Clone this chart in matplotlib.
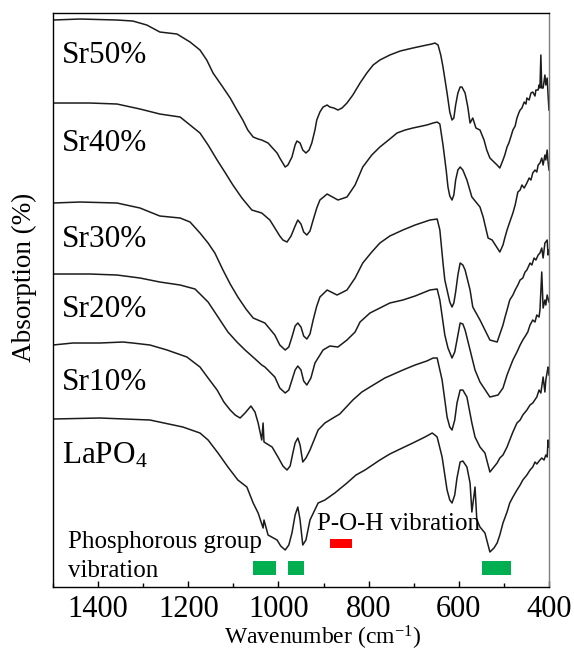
import matplotlib
matplotlib.use("Agg")
import matplotlib.pyplot as plt

plt.rcParams["font.family"] = ["Liberation Serif", "DejaVu Serif"]
plt.rcParams["mathtext.fontset"] = "custom"
plt.rcParams["mathtext.rm"] = "Liberation Serif"
plt.rcParams["mathtext.it"] = "Liberation Serif:italic"

# FTIR spectra, stacked with vertical offsets (wavenumber in cm-1, absorption in a.u.)
sr50_wn = [1500, 1440, 1358, 1323, 1292, 1263, 1225, 1196, 1174, 1159,
           1145, 1125, 1107, 1092, 1079, 1068, 1056, 1045, 1037, 1023,
           1003, 997, 985, 979, 970, 963, 959, 952, 946, 939,
           932, 926, 919, 915, 908, 901, 892, 886, 877, 868,
           859, 848, 835, 819, 804, 790, 775, 753, 730, 702,
           671, 660, 653, 646, 640, 635, 626, 620, 615, 611,
           607, 602, 597, 593, 586, 580, 575, 569, 562, 553,
           544, 538, 531, 522, 515, 509, 502, 498, 493, 489,
           484, 480, 475, 471, 467, 464, 460, 455, 451, 449,
           444, 440, 436, 431, 429, 424, 422, 420, 418, 416,
           413, 409, 407, 404, 402, 400]
sr50_ab = [56.7, 56.8, 56.7, 56.6, 56.2, 55.5, 55.3, 54.5, 53.7, 52.7,
           51.4, 50.1, 48.9, 47.7, 46.7, 45.7, 45.0, 44.8, 44.7, 44.4,
           43.4, 42.9, 42.0, 42.2, 43.0, 44.2, 44.6, 44.4, 43.7, 43.4,
           43.7, 44.4, 45.7, 46.7, 47.5, 48.0, 48.2, 48.0, 47.9, 47.7,
           47.9, 48.4, 49.2, 50.4, 51.4, 52.2, 52.7, 53.2, 53.6, 53.9,
           54.2, 54.3, 54.4, 54.2, 53.2, 52.0, 49.4, 47.5, 46.7, 46.9,
           48.2, 49.4, 50.0, 50.0, 49.4, 48.0, 46.4, 46.9, 45.9, 45.7,
           44.7, 43.7, 42.9, 42.5, 42.2, 41.9, 42.7, 43.2, 44.0, 44.4,
           45.1, 45.7, 46.1, 46.9, 47.4, 47.7, 47.9, 48.5, 48.3, 48.9,
           48.7, 49.4, 49.5, 49.1, 49.7, 49.7, 50.2, 49.9, 53.2, 49.9,
           49.9, 51.2, 50.2, 50.9, 49.2, 47.7]

sr40_wn = [1500, 1418, 1358, 1307, 1263, 1218, 1174, 1156, 1136, 1119,
           1101, 1081, 1059, 1037, 1019, 997, 990, 981, 972, 963,
           957, 950, 944, 937, 930, 923, 915, 908, 892, 868,
           848, 830, 813, 793, 775, 753, 737, 719, 702, 671,
           657, 648, 642, 635, 628, 624, 620, 615, 611, 607,
           602, 597, 591, 582, 571, 553, 546, 535, 526, 509,
           502, 498, 493, 487, 480, 475, 469, 464, 460, 455,
           449, 444, 440, 436, 431, 427, 424, 420, 416, 413,
           409, 407, 404, 402, 400]
sr40_ab = [48.4, 48.4, 48.3, 47.8, 47.3, 47.0, 45.4, 44.2, 42.7, 41.5,
           40.2, 38.9, 37.7, 37.4, 36.7, 35.1, 34.7, 34.5, 35.1, 36.1,
           36.7, 36.3, 35.5, 35.2, 35.6, 36.7, 37.9, 38.7, 39.3, 38.7,
           39.0, 40.2, 42.0, 43.2, 44.0, 44.8, 45.4, 45.7, 45.9, 46.2,
           46.4, 46.5, 46.3, 44.2, 41.7, 40.0, 39.1, 38.7, 39.2, 40.7,
           41.7, 42.0, 41.7, 40.7, 39.0, 38.0, 37.0, 34.9, 34.7, 33.5,
           34.2, 34.9, 35.7, 36.5, 37.4, 38.2, 39.5, 39.7, 40.2, 39.9,
           40.4, 40.9, 40.7, 41.4, 41.7, 41.5, 42.2, 42.4, 42.9, 42.2,
           43.2, 42.7, 43.7, 42.5, 41.7]

sr30_wn = [1500, 1440, 1358, 1307, 1263, 1218, 1196, 1174, 1156, 1141,
           1123, 1107, 1090, 1072, 1056, 1030, 1008, 997, 985, 977,
           970, 963, 957, 950, 944, 937, 930, 923, 915, 908,
           892, 870, 848, 830, 813, 793, 775, 753, 724, 697,
           664, 648, 642, 635, 631, 626, 620, 615, 611, 607,
           602, 597, 591, 586, 575, 569, 553, 531, 515, 502,
           498, 493, 487, 480, 475, 469, 464, 458, 453, 449,
           442, 438, 433, 429, 424, 420, 416, 413, 409, 404,
           402, 400]
sr30_ab = [38.4, 38.5, 38.4, 37.9, 37.1, 36.9, 36.5, 35.4, 34.4, 33.4,
           31.7, 30.3, 29.0, 27.8, 26.9, 26.4, 25.2, 24.2, 23.7, 24.0,
           25.0, 26.1, 26.4, 26.0, 25.1, 24.8, 25.3, 26.7, 28.1, 29.0,
           29.7, 29.2, 29.7, 30.9, 32.4, 33.5, 34.4, 35.1, 35.7, 36.2,
           36.7, 36.8, 35.7, 32.4, 30.7, 29.7, 28.5, 28.0, 28.4, 29.5,
           31.2, 32.4, 32.2, 31.7, 29.7, 28.0, 26.7, 24.7, 24.5, 26.2,
           26.9, 27.7, 28.7, 29.2, 29.7, 30.2, 30.7, 30.9, 31.5, 31.7,
           32.4, 32.2, 32.9, 32.7, 33.2, 33.4, 33.9, 32.9, 34.4, 34.7,
           33.2, 33.7]

sr20_wn = [1500, 1418, 1358, 1307, 1263, 1218, 1185, 1156, 1134, 1112,
           1092, 1074, 1054, 1037, 1030, 1008, 997, 985, 977, 970,
           963, 957, 950, 944, 937, 928, 919, 901, 886, 868,
           848, 830, 819, 797, 775, 753, 724, 697, 664, 648,
           642, 631, 624, 615, 609, 604, 597, 591, 586, 575,
           564, 553, 531, 513, 502, 493, 487, 480, 471, 464,
           458, 451, 447, 442, 436, 431, 427, 422, 420, 416,
           413, 409, 407, 404, 400]
sr20_ab = [31.3, 31.3, 31.2, 30.9, 30.5, 30.2, 29.8, 28.5, 27.0, 25.5,
           24.5, 23.7, 22.9, 22.2, 22.0, 21.0, 19.9, 19.4, 19.7, 20.7,
           21.7, 22.1, 21.7, 20.6, 20.2, 20.9, 22.4, 23.7, 24.1, 24.0,
           24.7, 25.5, 26.5, 27.4, 27.9, 28.4, 28.7, 29.1, 29.7, 29.8,
           28.7, 25.2, 23.9, 22.9, 23.5, 24.7, 26.4, 26.3, 25.7, 23.7,
           21.7, 20.5, 19.0, 19.2, 19.9, 21.2, 21.9, 22.7, 23.5, 24.2,
           24.7, 25.2, 25.5, 26.2, 26.7, 26.5, 27.2, 27.0, 27.7, 31.5,
           27.9, 28.7, 28.2, 29.2, 28.5]

sr10_wn = [1500, 1456, 1396, 1345, 1323, 1285, 1247, 1203, 1174, 1156,
           1136, 1121, 1107, 1096, 1085, 1074, 1061, 1052, 1045, 1037,
           1034, 1032, 1014, 1001, 990, 981, 974, 968, 963, 957,
           952, 946, 939, 930, 912, 897, 879, 864, 835, 815,
           797, 764, 724, 697, 671, 657, 648, 637, 631, 626,
           620, 615, 609, 604, 597, 591, 582, 571, 564, 553,
           542, 531, 515, 509, 502, 493, 487, 480, 471, 464,
           458, 449, 442, 436, 427, 422, 418, 413, 409, 407,
           404, 402, 400]
sr10_ab = [24.2, 24.4, 24.4, 24.5, 24.4, 24.2, 23.7, 23.0, 22.0, 20.9,
           19.7, 18.5, 17.7, 17.2, 16.9, 17.4, 18.1, 17.5, 16.4, 14.7,
           16.4, 14.5, 14.0, 13.0, 12.1, 11.7, 12.1, 13.4, 14.4, 14.9,
           14.2, 12.5, 12.9, 13.7, 15.7, 16.4, 16.9, 17.3, 18.7, 19.5,
           20.0, 20.9, 21.7, 22.2, 22.6, 22.9, 22.9, 20.7, 18.7, 17.0,
           16.0, 15.7, 16.7, 18.4, 19.7, 19.7, 19.0, 16.4, 15.0, 14.0,
           13.4, 11.5, 12.4, 12.9, 13.2, 14.0, 14.7, 15.5, 16.4, 16.7,
           17.2, 17.7, 18.2, 18.4, 19.0, 19.7, 19.4, 21.0, 19.5, 20.7,
           21.5, 22.0, 21.2]

lapo4_wn = [1500, 1396, 1285, 1212, 1174, 1156, 1134, 1112, 1090, 1070,
            1056, 1045, 1034, 1032, 1023, 1003, 995, 985, 977, 970,
            963, 957, 952, 946, 939, 930, 912, 897, 875, 848,
            828, 808, 775, 753, 730, 702, 675, 659, 653, 648,
            637, 631, 626, 620, 615, 609, 604, 597, 591, 582,
            575, 571, 564, 560, 553, 542, 531, 522, 515, 509,
            502, 493, 487, 480, 471, 464, 458, 449, 442, 436,
            431, 427, 420, 416, 411, 407, 404, 402, 400]
lapo4_ab = [16.8, 16.9, 16.7, 16.0, 15.4, 14.7, 13.4, 12.0, 10.7, 10.0,
            8.4, 7.4, 5.9, 6.7, 5.2, 4.7, 4.1, 3.7, 4.2, 5.4,
            7.2, 8.0, 6.7, 4.2, 4.7, 6.7, 8.4, 8.7, 9.4, 10.4,
            11.2, 11.7, 12.7, 13.3, 13.8, 14.4, 15.0, 15.4, 15.2, 15.0,
            13.0, 11.2, 9.7, 8.7, 8.4, 9.2, 10.9, 12.5, 12.6, 12.0,
            10.4, 7.5, 10.0, 6.7, 6.0, 5.4, 3.5, 3.9, 4.4, 5.2,
            6.4, 7.5, 8.4, 9.0, 9.7, 10.2, 10.7, 11.2, 11.7, 12.0,
            12.5, 12.3, 12.7, 12.9, 12.7, 13.2, 13.0, 14.7, 14.0]

series_names = ["Sr50%", "Sr40%", "Sr30%", "Sr20%", "Sr10%", r"LaPO$_\mathregular{4}$"]
series_wn = [sr50_wn, sr40_wn, sr30_wn, sr20_wn, sr10_wn, lapo4_wn]
series_ab = [sr50_ab, sr40_ab, sr30_ab, sr20_ab, sr10_ab, lapo4_ab]
label_ab = [52.4, 43.6, 34.0, 27.0, 19.7, 12.4]

# Assignment bands (wavenumber ranges)
phosphate_bands = [(1057, 1005), (979, 943), (549, 484)]
poh_band = (886, 837)

fig = plt.figure(figsize=(5.74, 6.51), dpi=100)
ax = fig.add_axes([0.0923, 0.0983, 0.8641, 0.8817])

for wn, ab in zip(series_wn, series_ab):
    ax.plot(wn, ab, color="#1c1c1c", lw=1.1, solid_joinstyle="round")

for name, y in zip(series_names, label_ab):
    ax.text(1480, y, name, fontsize=22.5, ha="left", va="baseline")

for hi, lo in phosphate_bands:
    ax.fill_between([lo, hi], 1.2, 2.6, color="#00b050", lw=0)
ax.fill_between([poh_band[1], poh_band[0]], 3.9, 4.8, color="#ff0000", lw=0)

ax.text(1467, 3.9, "Phosphorous group", fontsize=18, ha="left", va="baseline")
ax.text(1467, 1.0, "vibration", fontsize=18, ha="left", va="baseline")
ax.text(915, 5.7, "P-O-H vibration", fontsize=18, ha="left", va="baseline")

ax.set_xlim(1500, 400)
ax.set_ylim(0, 57.4)
ax.set_xticks([1400, 1200, 1000, 800, 600, 400])
ax.set_xticks([1500, 1300, 1100, 900, 700, 500], minor=True)
ax.set_yticks([])
ax.tick_params(axis="x", which="major", direction="in", length=4.5, width=1.0,
               labelsize=22, pad=6)
ax.tick_params(axis="x", which="minor", direction="in", length=3, width=1.0)

for side in ["left", "bottom", "top"]:
    ax.spines[side].set_linewidth(1.0)
    ax.spines[side].set_color("black")
ax.spines["right"].set_linewidth(1.0)
ax.spines["right"].set_color("#7f7f7f")

ax.set_xlabel(r"Wavenumber (cm$^{\mathregular{-1}}$)", fontsize=17)
ax.xaxis.label.set_va("baseline")
ax.xaxis.set_label_coords(0.544, -0.101)
ax.set_ylabel("Absorption (%)", fontsize=19.5)
ax.yaxis.set_label_coords(-0.032, 0.54)

fig.savefig("out.png", dpi=100)
